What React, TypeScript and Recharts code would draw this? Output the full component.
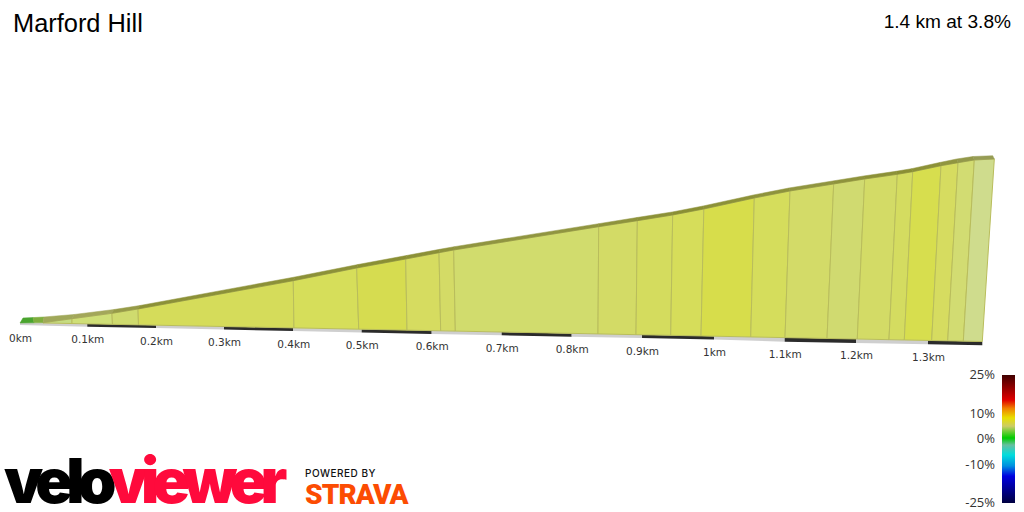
import React from 'react';
import { ScatterChart, Scatter, XAxis, YAxis } from 'recharts';

// Distance along the projected road (km on the drawn axis) and height (m above the start).
const faceTopKm = [0.0329, 0.0743, 0.1314, 0.1686, 0.3904, 0.481, 0.551, 0.5986, 0.6196, 0.8267, 0.8819, 0.9324, 0.9769, 1.049, 1.1, 1.1624, 1.2067, 1.2533, 1.2753, 1.3157, 1.34, 1.3633, 1.3919];
const faceTopM = [-0.05, 0.95, 2.3, 3.38, 10.45, 13.63, 15.88, 17.45, 18.13, 23.95, 25.45, 26.88, 28.38, 31.13, 32.88, 34.63, 35.88, 37.05, 37.7, 39.2, 39.95, 40.63, 40.88];
const faceBaseKm = [0.0329, 0.0743, 0.1321, 0.1693, 0.3914, 0.4839, 0.5529, 0.601, 0.6219, 0.8257, 0.88, 0.9296, 0.9729, 1.0439, 1.0929, 1.1529, 1.1961, 1.2414, 1.2633, 1.3024, 1.3253, 1.3476, 1.3747];
const faceBaseM = [-0.11, -0.26, -0.46, -0.59, -1.35, -1.67, -1.91, -2.08, -2.15, -2.85, -3.04, -3.21, -3.36, -3.61, -3.78, -3.99, -4.13, -4.29, -4.37, -4.5, -4.58, -4.66, -4.75];
const faceColors = ['#c6dc82', '#cfdf77', '#cfdb6e', '#d5dc5a', '#d6de5a', '#d6dc50', '#d6dc60', '#d4db66', '#d1dc6d', '#d3db66', '#d4dc5e', '#d6dd5a', '#d7dd4b', '#d5dd5c', '#d3db68', '#d0da70', '#d3db66', '#d4dc60', '#d7de4e', '#d6dc60', '#d2dc72', '#cfdc8d'];

const roadFrontKm = [0, 0.02, ...faceTopKm];
const roadFrontM = [-0.13, -0.08, ...faceTopM];
const roadBackKm = [0.0043, 0.0186, 0.0343, 0.0771, 0.1343, 0.1714, 0.3929, 0.4829, 0.5521, 0.5996, 0.6204, 0.8267, 0.8814, 0.9319, 0.976, 1.0479, 1.0986, 1.161, 1.2053, 1.2514, 1.2736, 1.3138, 1.3381, 1.3614, 1.3896];
const roadBackM = [1.13, 1.23, 1.38, 2, 3.25, 4.25, 11.38, 14.5, 16.75, 18.3, 18.95, 24.7, 26.25, 27.63, 29.13, 31.88, 33.63, 35.38, 36.63, 37.8, 38.45, 40, 40.88, 41.5, 41.7];
const roadColors = ['#4aa42f', '#7fae3e', '#a0a85a', '#a3a75a', '#969b48', '#8c9138', '#8c9138', '#8a8f34', '#8c9138', '#8e933c', '#909540', '#8e933c', '#8c9138', '#8a8f34', '#8c9138', '#8e933c', '#909540', '#8e933c', '#8c9138', '#8a8f34', '#8c9138', '#909540', '#93984a', '#969c55'];

const tickKm = [0, 0.0961, 0.1943, 0.2914, 0.3904, 0.4881, 0.5881, 0.6881, 0.7881, 0.8886, 0.9914, 1.0924, 1.1943, 1.2971, 1.3747];
const tickLabels = ['0km', '0.1km', '0.2km', '0.3km', '0.4km', '0.5km', '0.6km', '0.7km', '0.8km', '0.9km', '1km', '1.1km', '1.2km', '1.3km'];
const stripTopM = [0, -0.33, -0.68, -1, -1.35, -1.7, -2.03, -2.38, -2.73, -3.08, -3.43, -3.78, -4.13, -4.48, -4.75];
const stripBottomM = [-0.63, -1.08, -1.38, -1.75, -2.13, -2.53, -2.88, -3.2, -3.55, -3.85, -4.25, -4.8, -5.13, -5.43, -5.7];

const scaleStops = [
  ['#400000', 0], ['#e00000', 19.5], ['#f08000', 26], ['#e8e000', 33.5], ['#cccc66', 40], ['#00cc00', 49.2],
  ['#66c0a0', 54.7], ['#00dddd', 62.5], ['#0090e0', 71], ['#0000e0', 79], ['#000040', 100],
] as const;
const scaleLabels = [
  ['25%', 374], ['10%', 413], ['0%', 437.5], ['-10%', 463.5], ['-25%', 502],
] as const;

const poly = (xs: number[], ys: number[]) => [...xs.map((x, i) => ({ x, y: ys[i] })), { x: xs[0], y: ys[0] }];

const AxisTick = (props: any) => {
  const label = tickLabels[props.index];
  if (!label) return null;
  return (
    <text x={props.x + 0.5} y={342 + (props.x - 20) * 0.0205} textAnchor="middle" fontFamily="DejaVu Sans" fontSize={10.5} fill="#333">
      {label}
    </text>
  );
};

const noPoint = () => null as any;

export default function App() {
  return (
    <div style={{ position: 'absolute', left: 0, top: 0, width: 1024, height: 512, background: '#fff' }}>
      <ScatterChart width={1024} height={512} margin={{ top: 0, right: 0, bottom: 0, left: 0 }}>
        <XAxis
          type="number"
          dataKey="x"
          domain={[-20 / 700, 1004 / 700]}
          ticks={tickKm}
          interval={0}
          height={1}
          axisLine={false}
          tickLine={false}
          tick={AxisTick}
        />
        <YAxis type="number" dataKey="y" domain={[-47.125, 80.625]} hide width={0} />
        {tickLabels.map((_, i) => (
          <Scatter
            key={'strip' + i}
            isAnimationActive={false}
            data={poly(
              [tickKm[i], tickKm[i], tickKm[i + 1], tickKm[i + 1]],
              [stripTopM[i], stripBottomM[i], stripBottomM[i + 1], stripTopM[i + 1]],
            )}
            line={{ fill: i % 2 ? '#2b2b2b' : '#cfcfcf', stroke: 'none' }}
            shape={noPoint}
          />
        ))}
        {faceColors.map((c, i) => (
          <Scatter
            key={'face' + i}
            isAnimationActive={false}
            data={poly(
              [faceBaseKm[i], faceTopKm[i], faceTopKm[i + 1], faceBaseKm[i + 1]],
              [faceBaseM[i], faceTopM[i], faceTopM[i + 1], faceBaseM[i + 1]],
            )}
            line={{ fill: c, stroke: '#b9bd5c', strokeWidth: 1 }}
            shape={noPoint}
          />
        ))}
        {roadColors.map((c, i) => (
          <Scatter
            key={'road' + i}
            isAnimationActive={false}
            data={poly(
              [roadFrontKm[i], roadBackKm[i], roadBackKm[i + 1], roadFrontKm[i + 1]],
              [roadFrontM[i], roadBackM[i], roadBackM[i + 1], roadFrontM[i + 1]],
            )}
            line={{ fill: c, stroke: c, strokeWidth: 0.5 }}
            shape={noPoint}
          />
        ))}
      </ScatterChart>

      <div style={{ position: 'absolute', left: 13, top: 9, fontFamily: 'Liberation Sans', fontSize: 25.4, lineHeight: '29px', color: '#000', whiteSpace: 'nowrap' }}>Marford Hill</div>
      <div style={{ position: 'absolute', right: 13, top: 11, fontFamily: 'Liberation Sans', fontSize: 19.1, lineHeight: '22px', color: '#000', whiteSpace: 'nowrap' }}>1.4 km at 3.8%</div>

      <div
        style={{
          position: 'absolute', left: 1002, top: 375, width: 13, height: 128,
          background: `linear-gradient(to bottom, ${scaleStops.map(([c, p]) => `${c} ${p}%`).join(', ')})`,
        }}
      />
      {scaleLabels.map(([t, y]) => (
        <div key={t} style={{ position: 'absolute', right: 29, top: y - 9, fontFamily: 'Open Sans', fontSize: 13, lineHeight: '18px', color: '#333', whiteSpace: 'nowrap' }}>{t}</div>
      ))}

      <div style={{ position: 'absolute', left: 4, top: 452, height: 58, fontFamily: 'Inter', fontWeight: 900, fontSize: 62, lineHeight: '58px', letterSpacing: -6.8, whiteSpace: 'nowrap' }}>
        <span style={{ color: '#000' }}>velo</span><span style={{ color: '#ff0a3c' }}>viewer</span>
      </div>
      <div style={{ position: 'absolute', left: 305, top: 467, fontFamily: 'Inter', fontWeight: 500, fontSize: 10, lineHeight: '13px', letterSpacing: 0.5, color: '#111', whiteSpace: 'nowrap' }}>POWERED BY</div>
      <div style={{ position: 'absolute', left: 305, top: 478, fontFamily: 'Roboto', fontWeight: 900, fontSize: 28, lineHeight: '34px', letterSpacing: -0.9, color: '#fc4c02', whiteSpace: 'nowrap' }}>STRAVA</div>
    </div>
  );
}
